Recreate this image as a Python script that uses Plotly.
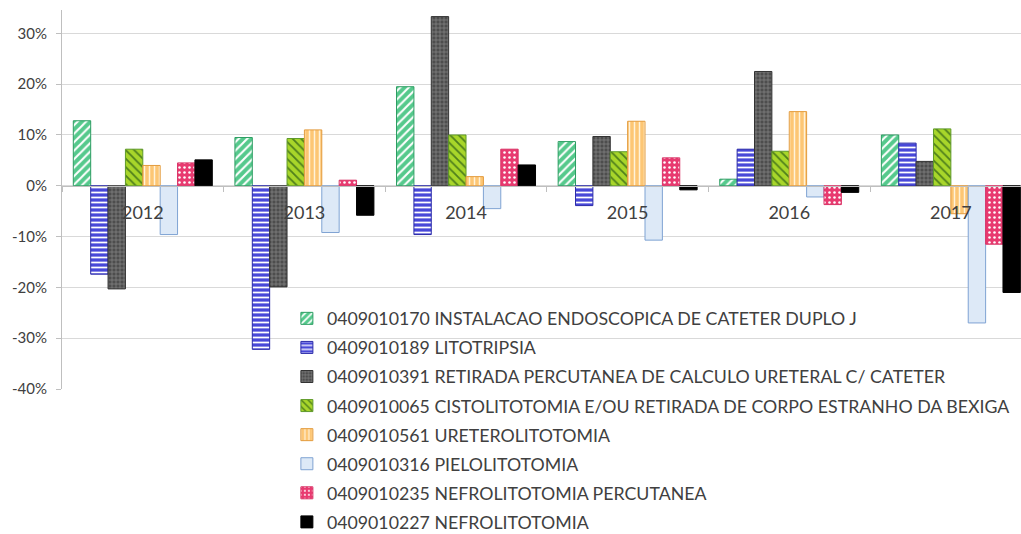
import plotly.graph_objects as go

# Annual variation (%) of urological procedures, 2012-2017
years = ["2012", "2013", "2014", "2015", "2016", "2017"]

instalacao_cateter = [12.8, 9.5, 19.5, 8.7, 1.3, 10.0]
litotripsia = [-17.4, -32.2, -9.6, -3.9, 7.2, 8.4]
retirada_percutanea = [-20.3, -19.9, 33.3, 9.7, 22.5, 4.8]
cistolitotomia = [7.2, 9.3, 10.0, 6.7, 6.8, 11.2]
ureterolitotomia = [4.0, 11.0, 1.8, 12.7, 14.6, -5.5]
pielolitotomia = [-9.6, -9.2, -4.5, -10.7, -2.2, -27.0]
nefrolitotomia_percutanea = [4.5, 1.1, 7.2, 5.5, -3.7, -11.5]
nefrolitotomia = [5.1, -5.8, 4.1, -0.8, -1.3, -21.0]

series_names = [
    "0409010170 INSTALACAO ENDOSCOPICA DE CATETER DUPLO J",
    "0409010189 LITOTRIPSIA",
    "0409010391 RETIRADA PERCUTANEA DE CALCULO URETERAL C/ CATETER",
    "0409010065 CISTOLITOTOMIA E/OU RETIRADA DE CORPO ESTRANHO DA BEXIGA",
    "0409010561 URETEROLITOTOMIA",
    "0409010316 PIELOLITOTOMIA",
    "0409010235 NEFROLITOTOMIA PERCUTANEA",
    "0409010227 NEFROLITOTOMIA",
]

series_values = [
    instalacao_cateter, litotripsia, retirada_percutanea, cistolitotomia,
    ureterolitotomia, pielolitotomia, nefrolitotomia_percutanea, nefrolitotomia,
]

y_ticks = [-40, -30, -20, -10, 0, 10, 20, 30]
y_tick_labels = ["-40%", "-30%", "-20%", "-10%", "0%", "10%", "20%", "30%"]

# fill / pattern / border styles per series
styles = [
    dict(bg="#55c98c", fg="#ffffff", shape="/", line="#2c9d62", size=6, sol=0.35),
    dict(bg="#4848d8", fg="#ffffff", shape="-", line="#2a2aa8", size=5, sol=0.35),
    dict(bg="#4d4d4d", fg="#8a8a8a", shape="+", line="#333333", size=4, sol=0.3),
    dict(bg="#a8d62a", fg="#4f7f1c", shape="\\", line="#5f9a2a", size=6, sol=0.3),
    dict(bg="#fdc674", fg="#fff2da", shape="|", line="#e39b3d", size=5, sol=0.3),
    dict(bg="#dde9f7", fg="#dde9f7", shape="", line="#7fa3d3", size=5, sol=0.3),
    dict(bg="#e83a70", fg="#ffffff", shape=".", line="#d93366", size=5, sol=0.2),
    dict(bg="#000000", fg="#000000", shape="", line="#000000", size=5, sol=0.3),
]

x_pos = list(range(len(years)))

fig = go.Figure()
for i, (name, vals, st) in enumerate(zip(series_names, series_values, styles)):
    marker = dict(color=st["bg"], line=dict(color=st["line"], width=1))
    if st["shape"]:
        marker["pattern"] = dict(shape=st["shape"], fgcolor=st["fg"], bgcolor=st["bg"],
                                 size=st["size"], solidity=st["sol"], fillmode="replace")
    fig.add_trace(go.Bar(name=name, x=x_pos, y=vals, marker=marker,
                         legendgroup=f"g{i}"))

y_min, y_max = -40, 34.6
plot_top, plot_bottom = 10, 145
zero_frac = (0 - y_min) / (y_max - y_min)

fig.update_layout(
    width=1021, height=534,
    margin=dict(l=62, r=0, t=plot_top, b=plot_bottom, autoexpand=False),
    paper_bgcolor="white", plot_bgcolor="white",
    barmode="group", bargap=0.14, bargroupgap=0,
    font=dict(family="Lato", color="#404040"),
    showlegend=True,
    legend=dict(
        x=0.2345, y=0.234, xanchor="left", yanchor="top",
        bgcolor="rgba(0,0,0,0)", font=dict(size=17.75, color="#404040"),
        traceorder="grouped", tracegroupgap=3, itemwidth=30,
    ),
)

fig.update_yaxes(
    range=[y_min, y_max], tickmode="array", tickvals=y_ticks, ticktext=y_tick_labels,
    showgrid=True, gridcolor="#d9d9d9", gridwidth=1, automargin=False,
    zeroline=False, showline=True, linecolor="#bfbfbf", linewidth=1,
    ticks="outside", ticklen=5, tickcolor="#bfbfbf",
    tickfont=dict(size=15, color="#404040"),
    ticklabelstandoff=6,
)

fig.update_xaxes(
    range=[-0.5, 5.434], anchor="free", position=zero_frac, automargin=False,
    tickmode="array", tickvals=x_pos, ticktext=years,
    ticks="", showgrid=False, zeroline=False,
    showline=True, linecolor="#bfbfbf", linewidth=1,
    tickfont=dict(size=18, color="#404040"),
    ticklabelstandoff=11,
    minor=dict(tickmode="array", tickvals=[i + 0.5 for i in range(-1, len(years))],
               ticks="outside", ticklen=5, tickcolor="#bfbfbf", showgrid=False),
)

fig.write_html("out.html")
